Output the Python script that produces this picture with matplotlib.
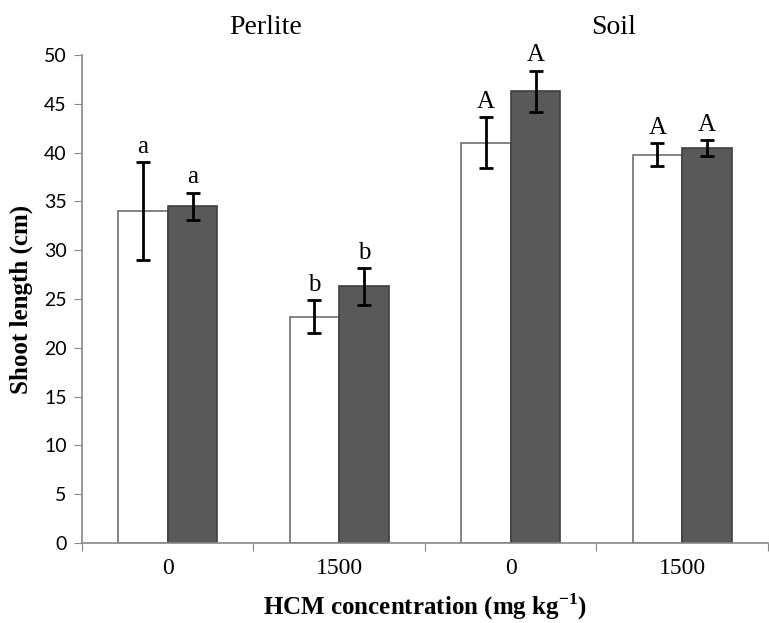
import numpy as np
import matplotlib.pyplot as plt

# shoot length (cm), two bars per concentration, Perlite then Soil
groups = ['Perlite', 'Soil']
tick_labels = ['0', '1500', '0', '1500']
white_vals = [34.0, 23.2, 41.0, 39.8]
white_err = [5.0, 1.7, 2.6, 1.2]
dark_vals = [34.5, 26.3, 46.3, 40.5]
dark_err = [1.4, 1.9, 2.1, 0.8]
white_letters = ['a', 'b', 'A', 'A']
dark_letters = ['a', 'b', 'A', 'A']

plt.rcParams['mathtext.fontset'] = 'custom'
plt.rcParams['mathtext.rm'] = 'Liberation Serif'
plt.rcParams['mathtext.bf'] = 'Liberation Serif:bold'

fig = plt.figure(figsize=(7.69, 6.23), dpi=100)
ax = fig.add_axes([0.1066, 0.1284, 0.8921, 0.7833])

x = np.arange(len(tick_labels))
w = 0.289
err_kw = dict(ecolor='black', elinewidth=2, capsize=5, capthick=2)

ax.bar(x - w/2, white_vals, w, color='white', edgecolor='#6e6e6e', linewidth=1.2,
       yerr=white_err, error_kw=err_kw, zorder=2)
ax.bar(x + w/2, dark_vals, w, color='#595959', edgecolor='#3f3f3f', linewidth=1.2,
       yerr=dark_err, error_kw=err_kw, zorder=2)

serif = ['Liberation Serif', 'DejaVu Serif']
for xi, v, e, t in zip(x - w/2, white_vals, white_err, white_letters):
    ax.annotate(t, (xi, v + e), xytext=(0, 3), textcoords='offset points',
                ha='center', va='bottom', fontsize=18, family=serif)
for xi, v, e, t in zip(x + w/2, dark_vals, dark_err, dark_letters):
    ax.annotate(t, (xi, v + e), xytext=(0, 3), textcoords='offset points',
                ha='center', va='bottom', fontsize=18, family=serif)

# group titles above the chart
ax.text(0.57, 1.057, groups[0], transform=ax.get_xaxis_transform(), ha='center',
        va='center', fontsize=20, family=serif)
ax.text(2.6, 1.057, groups[1], transform=ax.get_xaxis_transform(), ha='center',
        va='center', fontsize=20, family=serif)

ax.set_xlim(-0.5, 3.5)
ax.set_ylim(0, 50)
ax.set_yticks(np.arange(0, 51, 5))
ax.set_xticks(np.arange(-0.5, 3.6, 1.0))
ax.set_xticklabels([])
ax.set_xticks(x, minor=True)
ax.set_xticklabels(tick_labels, minor=True)
ax.tick_params(axis='x', which='minor', length=0, pad=11, labelsize=17)
ax.tick_params(axis='x', which='major', length=6, color='#888888', direction='out')
ax.tick_params(axis='y', length=6, color='#888888', labelsize=14, pad=5)
for lab in ax.get_xticklabels(minor=True):
    lab.set_family(serif)
for lab in ax.get_yticklabels():
    lab.set_family(['Lato', 'DejaVu Sans'])

for s in ['top', 'right']:
    ax.spines[s].set_visible(False)
for s in ['left', 'bottom']:
    ax.spines[s].set_color('#888888')
    ax.spines[s].set_linewidth(1.2)

ax.set_ylabel('Shoot length (cm)', fontsize=18, fontweight='bold', family=serif, labelpad=8)
ax.set_xlabel('HCM concentration (mg kg$^{\\mathbf{-1}}$)', fontsize=18, fontweight='bold',
              family=serif, labelpad=9)

fig.savefig('out.png', dpi=100)
